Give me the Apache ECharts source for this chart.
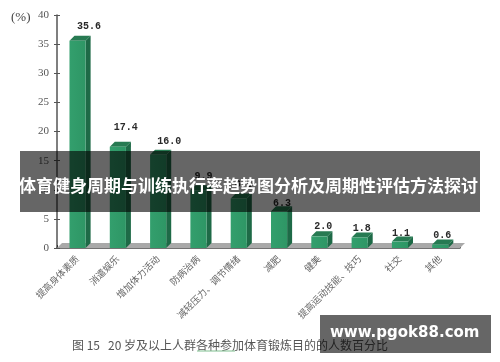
<!DOCTYPE html>
<html><head><meta charset="utf-8">
<style>html,body{margin:0;padding:0;background:#fff}#c{width:500px;height:362px}</style>
<script src="https://cdn.jsdelivr.net/npm/echarts@6/dist/echarts.min.js"></script>
</head><body><div id="c"></div>
<script>
const categories = ['提高身体素质','消遣娱乐','增加体力活动','防病治病','减轻压力、调节情绪','减肥','健美','提高运动技能、技巧','社交','其他'];
const values = [35.6,17.4,16.0,9.9,8.5,6.3,2.0,1.8,1.1,0.6];
const yTicks = {min:0,max:40,interval:5};
const unitLabel = '(%)';
const caption = '图 15   20 岁及以上人群各种参加体育锻炼目的的人数百分比';
const bannerTitle = '体育健身周期与训练执行率趋势图分析及周期性评估方法探讨';
const watermark = 'www.pgok88.com';
// The value labels were placed by hand in the original: nudge per bar [dx from bar centre, dy above lid]
const labelNudge = [[11.5,9],[8,14.5],[11,8],[5,9],[5,9],[3,2.5],[4,5],[2,4.5],[1,3.6],[2,4.5]];

const DX = 5, DY = 5;
const chart = echarts.init(document.getElementById('c'), null, {renderer:'canvas'});

function renderBar(params, api){
  const idx = api.value(0), v = api.value(1);
  const top = api.coord([idx, v]), base = api.coord([idx, 0]);
  const w = api.size([1,0])[0] * 0.4;
  const l = top[0] - w/2 + 0.4, r = l + w, t = top[1], b = base[1];
  const nudge = labelNudge[idx];
  return {type:'group', children:[
    {type:'polygon', shape:{points:[[r,t],[r+DX,t-DY],[r+DX,b-DY],[r,b]]}, style:{fill:'#1e6a47'}},
    {type:'polygon', shape:{points:[[l,t],[l+DX,t-DY],[r+DX,t-DY],[r,t]]}, style:{fill:'#277a52'}},
    {type:'rect', shape:{x:l,y:t,width:w,height:b-t}, style:{fill:new echarts.graphic.LinearGradient(0,0,1,0,[{offset:0,color:'#339f6d'},{offset:1,color:'#2e9665'}])}},
    {type:'text', style:{x:l+w/2+nudge[0], y:t-DY-nudge[1], text:v.toFixed(1), fill:'#2a2a2a', align:'center', verticalAlign:'middle',
      font:'bold 10px "Liberation Mono"'}}
  ]};
}
function renderFloor(params, api){
  const c = params.coordSys, y = c.y + c.height, x = c.x, r = c.x + c.width;
  return {type:'polygon', shape:{points:[[x,y],[x+DX,y-DY],[r+DX,y-DY],[r,y]]}, style:{fill:'#a9a9a9'}};
}

chart.setOption({
  animation:false,
  grid:{left:57,right:40,top:15,bottom:114},
  xAxis:{type:'category',data:categories,boundaryGap:true,
    axisLine:{lineStyle:{color:'#444',width:1.5}},
    axisTick:{show:true,inside:true,length:3,lineStyle:{color:'#333'}},
    axisLabel:{rotate:45,interval:0,margin:9,color:'#666',fontSize:9.4,fontFamily:'"Noto Sans CJK SC"'}},
  yAxis:[
    {type:'value',min:yTicks.min,max:yTicks.max,interval:yTicks.interval,splitLine:{show:false},
     axisLine:{show:true,lineStyle:{color:'#555',width:1.5}},
     axisTick:{show:true,length:3,lineStyle:{color:'#555'}},
     axisLabel:{color:'#555',fontSize:11,margin:8,fontFamily:'"Liberation Serif"'}},
    {type:'value',position:'left',min:yTicks.min,max:yTicks.max,interval:yTicks.interval,splitLine:{show:false},
     axisLine:{show:false},axisTick:{show:true,inside:true,length:3,lineStyle:{color:'#555'}},axisLabel:{show:false}}
  ],
  series:[
    {type:'custom',z:1,silent:true,renderItem:renderFloor,data:[0]},
    {type:'custom',z:3,renderItem:renderBar,encode:{x:0,y:1},data:values.map((v,i)=>[i,v])}
  ],
  graphic:[
    {type:'text',z:5,left:11,top:11,style:{text:unitLabel,font:'13px "Liberation Serif"',fill:'#444'}},
    {type:'text',z:5,left:72,top:339,style:{text:caption,font:'12px "Noto Sans CJK SC"',fill:'#555'}},
    {type:'line',z:5,shape:{x1:197,y1:351,x2:235,y2:351},style:{stroke:'#7fbf8f',lineWidth:1}},
    {type:'rect',z:50,shape:{x:20,y:151,width:460,height:61},style:{fill:'rgba(0,0,0,0.6)'}},
    {type:'text',z:51,left:19,top:177,style:{text:bannerTitle,font:'bold 17px "Noto Sans CJK SC"',fill:'#fff'}},
    {type:'rect',z:50,shape:{x:320,y:315,width:171,height:38},style:{fill:'rgba(0,0,0,0.6)'}},
    {type:'text',z:51,left:330,top:326,style:{text:watermark,font:'bold 15px "DejaVu Sans"',fill:'#fff'}}
  ]
});
</script></body></html>
